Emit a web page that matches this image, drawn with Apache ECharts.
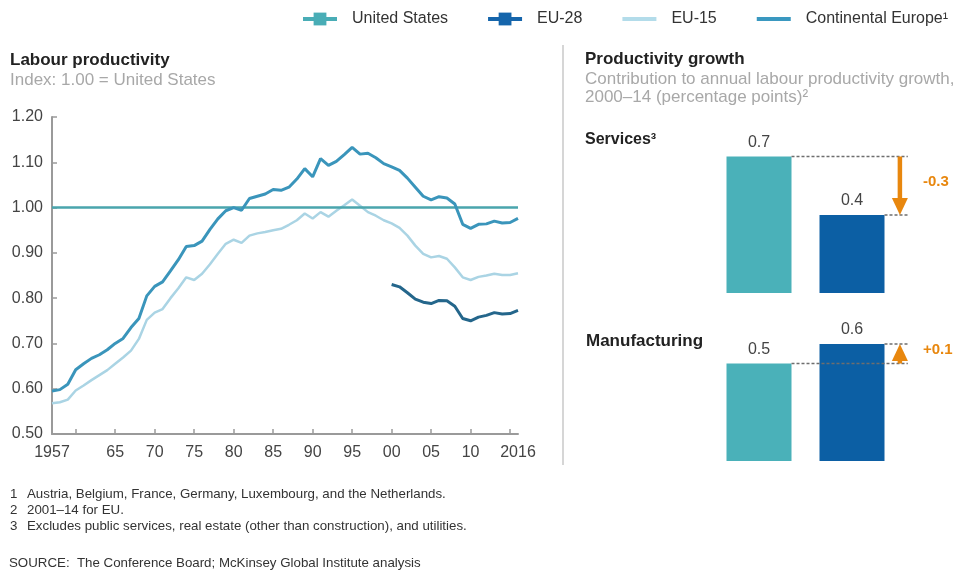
<!DOCTYPE html>
<html><head><meta charset="utf-8">
<script src="https://cdn.jsdelivr.net/npm/echarts@6/dist/echarts.min.js"></script>
<style>html,body{margin:0;padding:0;background:#fff}#c{width:959px;height:572px}</style>
</head><body><div id="c"></div>
<script>
// ---------- data ----------
const years = ['1957','1958','1959','1960','1961','1962','1963','1964','1965','1966','1967','1968','1969','1970','1971','1972','1973','1974','1975','1976','1977','1978','1979','1980','1981','1982','1983','1984','1985','1986','1987','1988','1989','1990','1991','1992','1993','1994','1995','1996','1997','1998','1999','2000','2001','2002','2003','2004','2005','2006','2007','2008','2009','2010','2011','2012','2013','2014','2015','2016'];
const xLabelYears = ['1957','1965','1970','1975','1980','1985','1990','1995','2000','2005','2010','2016'];
const xLabelTexts = ['1957','65','70','75','80','85','90','95','00','05','10','2016'];
const yTickLabels = ['0.50','0.60','0.70','0.80','0.90','1.00','1.10','1.20'];

const unitedStates = [1.00,1.00,1.00,1.00,1.00,1.00,1.00,1.00,1.00,1.00,1.00,1.00,1.00,1.00,1.00,1.00,1.00,1.00,1.00,1.00,1.00,1.00,1.00,1.00,1.00,1.00,1.00,1.00,1.00,1.00,1.00,1.00,1.00,1.00,1.00,1.00,1.00,1.00,1.00,1.00,1.00,1.00,1.00,1.00,1.00,1.00,1.00,1.00,1.00,1.00,1.00,1.00,1.00,1.00,1.00,1.00,1.00,1.00,1.00,1.00];
const continentalEurope = [0.595,0.598,0.610,0.642,0.655,0.667,0.675,0.686,0.700,0.711,0.735,0.755,0.805,0.826,0.836,0.860,0.885,0.914,0.916,0.926,0.952,0.975,0.993,1.000,0.994,1.020,1.025,1.030,1.040,1.038,1.045,1.063,1.086,1.068,1.108,1.093,1.102,1.117,1.133,1.118,1.120,1.110,1.097,1.090,1.082,1.065,1.045,1.025,1.017,1.024,1.021,1.008,0.963,0.954,0.963,0.964,0.970,0.966,0.967,0.976];
const eu15 = [0.568,0.570,0.576,0.596,0.607,0.619,0.630,0.641,0.655,0.669,0.684,0.710,0.752,0.768,0.776,0.800,0.822,0.846,0.840,0.854,0.875,0.898,0.920,0.929,0.922,0.938,0.943,0.946,0.950,0.953,0.962,0.972,0.987,0.976,0.990,0.980,0.993,1.005,1.018,1.004,0.990,0.982,0.972,0.965,0.955,0.938,0.916,0.898,0.890,0.893,0.887,0.868,0.846,0.840,0.847,0.850,0.854,0.851,0.851,0.855];
const eu28Years = ['2000','2001','2002','2003','2004','2005','2006','2007','2008','2009','2010','2011','2012','2013','2014','2015','2016'];
const eu28 = [0.830,0.825,0.812,0.798,0.791,0.788,0.795,0.794,0.782,0.755,0.750,0.758,0.762,0.768,0.765,0.766,0.773];

const barGroups = ['United States','EU-28'];
const servicesValues = [0.7, 0.4];
const manufacturingValues = [0.5, 0.6];

// ---------- styles ----------
const FONT = '"Liberation Sans", Arial, sans-serif';
const C_US_LINE = '#4aa5ad', C_CONT = '#3a95bb', C_EU15 = '#aad4e4', C_EU28_LINE = '#24668b';
const C_US_BAR = '#4ab1b9', C_EU_BAR = '#0c5fa4', C_ORANGE = '#e8870e';
const BAR_W = 65;

function annotation(idx, vals) {
  return {
    type: 'custom', xAxisIndex: idx, yAxisIndex: idx, z: 5, clip: false, silent: true,
    data: [[0, vals[0], vals[1]]], encode: {x: 0, y: 1},
    renderItem: function (params, api) {
      const a = api.value(1), b = api.value(2);
      const pA = api.coord([0, a]), pB = api.coord([1, b]);
      const xEnd = api.coord([1.6, 0])[0];
      const xArr = api.coord([1.515, 0])[0];
      const dir = pB[1] > pA[1] ? 1 : -1;
      const headH = 17, headW = 8;
      const baseY = pB[1] - dir * headH;
      const diff = b - a;
      const txt = (diff > 0 ? '+' : '-') + Math.abs(diff).toFixed(1);
      const dash = {stroke: '#6e6e6e', lineWidth: 1.3, lineDash: [3, 2]};
      return {type: 'group', children: [
        {type: 'line', shape: {x1: pA[0] + BAR_W / 2, y1: pA[1], x2: xEnd, y2: pA[1]}, style: dash},
        {type: 'line', shape: {x1: pB[0] + BAR_W / 2, y1: pB[1], x2: xEnd, y2: pB[1]}, style: dash},
        {type: 'line', shape: {x1: xArr, y1: pA[1], x2: xArr, y2: baseY}, style: {stroke: C_ORANGE, lineWidth: 4.5}},
        {type: 'polygon', shape: {points: [[xArr - headW, baseY], [xArr + headW, baseY], [xArr, pB[1]]]}, style: {fill: C_ORANGE}},
        {type: 'text', x: xArr + 23, y: (pA[1] + pB[1]) / 2 - 4, style: {text: txt, fill: C_ORANGE, font: 'bold 15px ' + FONT, verticalAlign: 'middle'}}
      ]};
    }
  };
}

function barSeries(idx, vals) {
  return {
    type: 'bar', xAxisIndex: idx, yAxisIndex: idx, barWidth: BAR_W, silent: true,
    data: vals.map((v, i) => ({value: [i, v], itemStyle: {color: i === 0 ? C_US_BAR : C_EU_BAR}})),
    label: {show: true, position: 'top', distance: 6, fontSize: 16, color: '#444', fontFamily: FONT,
      formatter: p => p.value[1].toFixed(1)}
  };
}

function txt(x, y, text, font, fill) {
  return {type: 'text', x: x, y: y, style: {text: text, font: font + ' ' + FONT, fill: fill, verticalAlign: 'middle'}};
}

const chart = echarts.init(document.getElementById('c'), null, {renderer: 'canvas'});
chart.setOption({
  animation: false,
  textStyle: {fontFamily: FONT},
  legend: {
    left: 296, top: 6, width: 720, itemWidth: 34, itemHeight: 16, itemGap: 38,
    textStyle: {fontSize: 16, color: '#333', fontFamily: FONT, padding: [0, 0, 0, 10]},
    selectedMode: false,
    data: [
      {name: 'United States', itemStyle: {color: '#49adb6'}, lineStyle: {color: '#49adb6', width: 4}},
      {name: 'EU-28', itemStyle: {color: '#1565ab'}, lineStyle: {color: '#1565ab', width: 4}},
      {name: 'EU-15', itemStyle: {opacity: 0}, lineStyle: {color: '#b3dcea', width: 4}},
      {name: 'Continental Europe¹', itemStyle: {opacity: 0}, lineStyle: {color: '#3a98c0', width: 4}}
    ]
  },
  grid: [
    {left: 52, top: 117, width: 466, height: 317},
    {left: 712.5, top: 98, width: 232.5, height: 195},
    {left: 712.5, top: 266, width: 232.5, height: 195}
  ],
  xAxis: [
    {gridIndex: 0, type: 'category', data: years, boundaryGap: false,
      axisLine: {lineStyle: {color: '#9a9a9a', width: 2}},
      axisTick: {inside: true, length: 5, lineStyle: {color: '#9a9a9a', width: 1.5}, interval: (i, v) => (+v) % 5 === 0},
      axisLabel: {interval: (i, v) => xLabelYears.indexOf(v) >= 0, formatter: v => xLabelTexts[xLabelYears.indexOf(v)],
        fontSize: 16, color: '#444', margin: 11, fontFamily: FONT},
      splitLine: {show: false}},
    {gridIndex: 1, type: 'value', min: -0.5, max: 2, show: false},
    {gridIndex: 2, type: 'value', min: -0.5, max: 2, show: false}
  ],
  yAxis: [
    {gridIndex: 0, type: 'value', min: 0.5, max: 1.2, interval: 0.1,
      axisLine: {show: true, lineStyle: {color: '#9a9a9a', width: 2}},
      axisTick: {show: true, inside: true, length: 5, lineStyle: {color: '#9a9a9a', width: 1.5}},
      axisLabel: {formatter: (v, i) => yTickLabels[i], fontSize: 16, color: '#444', margin: 9, fontFamily: FONT},
      splitLine: {show: false}},
    {gridIndex: 1, type: 'value', min: 0, max: 1, show: false},
    {gridIndex: 2, type: 'value', min: 0, max: 1, show: false}
  ],
  series: [
    {name: 'EU-15', type: 'line', data: eu15, symbol: 'none', lineStyle: {color: C_EU15, width: 2.5}, itemStyle: {color: C_EU15}, z: 2},
    {name: 'United States', type: 'line', data: unitedStates, symbol: 'rect', showSymbol: false, lineStyle: {color: C_US_LINE, width: 2.5}, itemStyle: {color: C_US_LINE}, z: 3},
    {name: 'EU-28', type: 'line', data: eu28Years.map((y, i) => [y, eu28[i]]), symbol: 'rect', showSymbol: false, lineStyle: {color: C_EU28_LINE, width: 3}, itemStyle: {color: C_EU28_LINE}, z: 4},
    {name: 'Continental Europe¹', type: 'line', data: continentalEurope, symbol: 'none', lineStyle: {color: C_CONT, width: 3}, itemStyle: {color: C_CONT}, z: 5},
    barSeries(1, servicesValues),
    barSeries(2, manufacturingValues),
    annotation(1, servicesValues),
    annotation(2, manufacturingValues)
  ],
  graphic: [
    txt(10, 60, 'Labour productivity', 'bold 17px', '#222'),
    txt(10, 80, 'Index: 1.00 = United States', '17px', '#a8a8a8'),
    txt(585, 59, 'Productivity growth', 'bold 17px', '#222'),
    txt(585, 79, 'Contribution to annual labour productivity growth,', '17px', '#a8a8a8'),
    txt(585, 97, '2000–14 (percentage points)²', '17px', '#a8a8a8'),
    txt(585, 140, 'Services³', 'bold 16px', '#222'),
    txt(586, 341, 'Manufacturing', 'bold 17px', '#222'),
    {type: 'line', shape: {x1: 563, y1: 45, x2: 563, y2: 465}, style: {stroke: '#c8c8c8', lineWidth: 1.5}},
    txt(10, 494, '1', '13.3px', '#333'),
    txt(27, 494, 'Austria, Belgium, France, Germany, Luxembourg, and the Netherlands.', '13.3px', '#333'),
    txt(10, 510, '2', '13.3px', '#333'),
    txt(27, 510, '2001–14 for EU.', '13.3px', '#333'),
    txt(10, 526, '3', '13.3px', '#333'),
    txt(27, 526, 'Excludes public services, real estate (other than construction), and utilities.', '13.3px', '#333'),
    txt(9, 563, 'SOURCE:  The Conference Board; McKinsey Global Institute analysis', '13.3px', '#333')
  ]
});
</script>
</body></html>
